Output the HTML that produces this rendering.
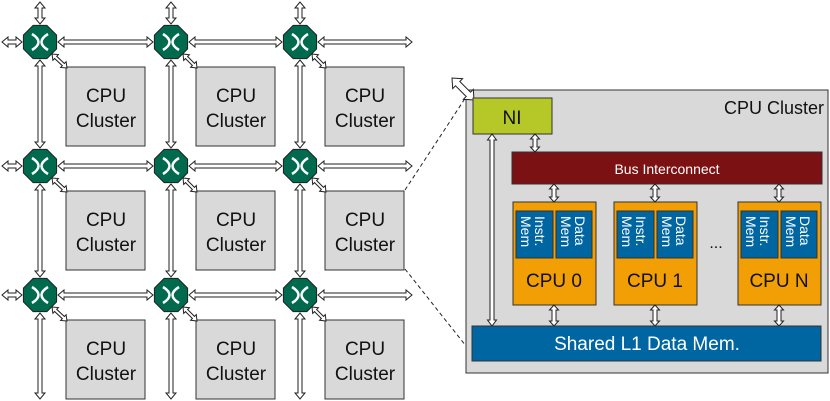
<!DOCTYPE html>
<html><head><meta charset="utf-8"><style>
body{margin:0;background:#fff}
svg{display:block;font-family:"Liberation Sans",sans-serif}
</style></head><body>
<svg id="s" width="830" height="401" viewBox="0 0 830 401" xmlns="http://www.w3.org/2000/svg">
<g id="g"></g>
</svg>
<script>
var g=document.getElementById('g'),h='';
function A(x1,y1,x2,y2,w,hw,hl){w=w||2;hw=hw||5;hl=hl||6;
var dx=x2-x1,dy=y2-y1,L=Math.hypot(dx,dy),ux=dx/L,uy=dy/L,px=-uy,py=ux;
function P(t,s){return (x1+ux*t+px*s).toFixed(1)+','+(y1+uy*t+py*s).toFixed(1);}
var pts=[P(0,0),P(hl,hw),P(hl,w),P(L-hl,w),P(L-hl,hw),P(L,0),P(L-hl,-hw),P(L-hl,-w),P(hl,-w),P(hl,-hw)];
h+='<polygon points="'+pts.join(' ')+'" fill="#fff" stroke="#222" stroke-width="1"/>';}
function R(x,y,w,hh,f,sw){h+='<rect x="'+x+'" y="'+y+'" width="'+w+'" height="'+hh+'" fill="'+f+'" stroke="#333" stroke-width="'+(sw||1)+'"/>';}
function T(x,y,s,t,f,a,extra){h+='<text x="'+x+'" y="'+y+'" font-size="'+s+'" fill="'+(f||'#111')+'" text-anchor="'+(a||'middle')+'" '+(extra||'')+'>'+t+'</text>';}
var rx=[40,171,300],ry=[42,166,295],bx=[66,196,325],by=[67,191,320];
for(var i=0;i<3;i++)for(var j=0;j<3;j++){R(bx[i],by[j],79,79,'#d9d9d9');T(bx[i]+40,by[j]+35,19,'CPU');T(bx[i]+40,by[j]+60,19,'Cluster');}
for(var j=0;j<3;j++){var y=ry[j];A(2,y,22,y);A(58,y,153,y);A(189,y,282,y);A(318,y,412,y);}
for(var i=0;i<3;i++){var x=rx[i];A(x,2,x,24);A(x,60,x,148);A(x,184,x,277);A(x,313,x,399);}
for(var i=0;i<3;i++)for(var j=0;j<3;j++){A(rx[i]+12,ry[j]+12,bx[i]+1,by[j]+1,1.5,4,5);}
for(var i=0;i<3;i++)for(var j=0;j<3;j++){var cx=rx[i],cy=ry[j],r=18,p=[];for(var k=0;k<8;k++){var a=Math.PI/8+k*Math.PI/4;p.push((cx+r*Math.cos(a)).toFixed(1)+','+(cy+r*Math.sin(a)).toFixed(1));}
h+='<polygon points="'+p.join(' ')+'" fill="#006a4e" stroke="#222" stroke-width="1"/>';
h+='<path d="M'+(cx-8)+','+(cy-8)+' Q'+(cx+5)+','+cy+' '+(cx-8)+','+(cy+8)+' M'+(cx+8)+','+(cy-8)+' Q'+(cx-5)+','+cy+' '+(cx+8)+','+(cy+8)+'" stroke="#fff" stroke-width="2.5" fill="none"/>';}
h+='<line x1="405" y1="190" x2="466" y2="97" stroke="#222" stroke-dasharray="4,3"/>';
h+='<line x1="405" y1="269" x2="466" y2="346" stroke="#222" stroke-dasharray="4,3"/>';
R(466,90,362,283,'#d9d9d9');
T(824,114,18,'CPU Cluster','#111','end');
A(452,78,474,100,3,7,8);
R(473,98,79,36,'#b5c827');T(512,124,19,'NI');
R(512,152,310,32,'#7b1113');T(667,174,14,'Bus Interconnect','#fff');
A(535,134,535,152,2,4.5,5);
A(492,134,492,326,2,4.5,6);
var cxs=[513,614,738],lab=['CPU 0','CPU 1','CPU N'];
for(var i=0;i<3;i++){var x=cxs[i];R(x,202,83,103,'#f29f05');
R(x+3,211,37,47,'#0066a2');R(x+43,211,36,47,'#0066a2');
h+='<text transform="translate('+(x+22)+',216) rotate(90)" font-size="14" fill="#fff"><tspan x="0" dy="0">Instr.</tspan><tspan x="0" dy="14">Mem</tspan></text>';
h+='<text transform="translate('+(x+62)+',216) rotate(90)" font-size="14" fill="#fff"><tspan x="0" dy="0">Data</tspan><tspan x="0" dy="14">Mem</tspan></text>';
T(x+41,287,19,lab[i]);
A(x+41,184,x+41,202,2,4.5,5);A(x+41,305,x+41,326,2,4.5,5);}
T(716,248,16,'...');
R(472,326,349,35,'#0066a2');T(647,350,19,'Shared L1 Data Mem.','#fff');
g.innerHTML=h;
</script>
</body></html>
